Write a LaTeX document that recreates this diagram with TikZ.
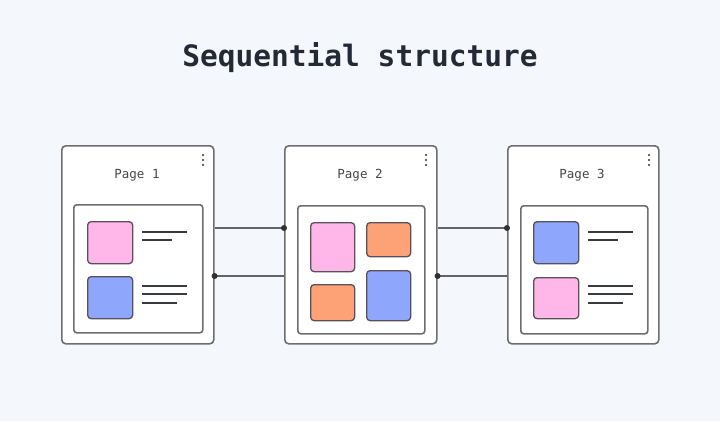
\documentclass[tikz,border=0pt]{standalone}
\usepackage{fontspec}
\newfontfamily\titlefont{DejaVu Sans Mono}
\newfontfamily\pagefont{DejaVu Sans Mono}
\definecolor{bg}{RGB}{244,247,252}
\definecolor{frame}{RGB}{110,110,112}
\definecolor{ink}{RGB}{34,42,54}
\definecolor{pinkc}{RGB}{255,182,232}
\definecolor{bluec}{RGB}{142,166,252}
\definecolor{orangec}{RGB}{252,162,118}
\definecolor{sqline}{RGB}{90,80,90}
\definecolor{txtline}{RGB}{55,58,64}
\definecolor{conn}{RGB}{100,100,104}
\definecolor{dotc}{RGB}{45,48,52}
\tikzset{
  card/.style={draw=frame, line width=1.6pt, fill=white, rounded corners=4pt,
    anchor=north west, inner sep=0pt, minimum width=152pt, minimum height=198pt},
  inner/.style={draw=frame, line width=1.6pt, fill=white, rounded corners=3pt,
    anchor=north west, inner sep=0pt, minimum width=128pt, minimum height=128pt},
  sq/.style={draw=sqline, line width=1.3pt, rounded corners=3.5pt, anchor=north west,
    inner sep=0pt},
  tline/.style={draw=txtline, line width=2pt},
  connector/.style={draw=conn, line width=1.5pt},
  jdot/.style={circle, fill=dotc, inner sep=0pt, minimum size=6pt},
  menudot/.style={circle, fill=dotc, inner sep=0pt, minimum size=2.2pt},
  pagelabel/.style={font=\pagefont\fontsize{12.5}{14}\selectfont, text=black!72},
}
\begin{document}
\begin{tikzpicture}[x=1pt,y=-1pt]
\useasboundingbox (0,0) rectangle (720,421);
\fill[bg] (0,0) rectangle (720,421);

\node[font=\titlefont\bfseries\fontsize{29.5}{33}\selectfont, text=ink] (title) at (360,58) {Sequential structure};

% cards
\node[card] (c1) at (61,145) {};
\node[card, minimum width=152pt] (c2) at (284,145) {};
\node[card, minimum width=151pt] (c3) at (507,145) {};

\node[pagelabel] (p1) at (137,175) {Page 1};
\node[pagelabel] (p2) at (360,175) {Page 2};
\node[pagelabel] (p3) at (582,175) {Page 3};

\foreach \c/\x in {c1/203, c2/426, c3/649}{
  \node[menudot] (\c m1) at (\x,155) {};
  \node[menudot] (\c m2) at (\x,160) {};
  \node[menudot] (\c m3) at (\x,165) {};
}

% inner boxes
\node[inner, minimum width=129pt] (i1) at (73,204) {};
\node[inner, minimum width=127pt] (i2) at (297,205) {};
\node[inner, minimum width=127pt] (i3) at (520,205) {};

% page 1 content
\node[sq, fill=pinkc, minimum width=45pt, minimum height=42pt] (s11) at (87,221) {};
\node[sq, fill=bluec, minimum width=45pt, minimum height=42pt] (s12) at (87,276) {};
\draw[tline] (142,232) -- (187,232);
\draw[tline] (142,240) -- (172,240);
\draw[tline] (142,286) -- (187,286);
\draw[tline] (142,294) -- (187,294);
\draw[tline] (142,303) -- (177,303);

% page 2 content
\node[sq, fill=pinkc, minimum width=44pt, minimum height=49pt] (s21) at (310,222) {};
\node[sq, fill=orangec, minimum width=44pt, minimum height=34pt] (s22) at (366,222) {};
\node[sq, fill=orangec, minimum width=44pt, minimum height=36pt] (s23) at (310,284) {};
\node[sq, fill=bluec, minimum width=44pt, minimum height=50pt] (s24) at (366,270) {};

% page 3 content
\node[sq, fill=bluec, minimum width=45pt, minimum height=42pt] (s31) at (533,221) {};
\node[sq, fill=pinkc, minimum width=45pt, minimum height=41pt] (s32) at (533,277) {};
\draw[tline] (588,232) -- (633,232);
\draw[tline] (588,240) -- (618,240);
\draw[tline] (588,286) -- (633,286);
\draw[tline] (588,294) -- (633,294);
\draw[tline] (588,303) -- (623,303);

% connectors
\coordinate (a1) at (c1.east |- 0,228);
\coordinate (b1) at (c2.west |- 0,228);
\coordinate (a2) at (c1.east |- 0,276);
\coordinate (b2) at (c2.west |- 0,276);
\coordinate (a3) at (c2.east |- 0,228);
\coordinate (b3) at (c3.west |- 0,228);
\coordinate (a4) at (c2.east |- 0,276);
\coordinate (b4) at (c3.west |- 0,276);
\draw[connector] (a1) -- (b1);
\draw[connector] (a2) -- (b2);
\draw[connector] (a3) -- (b3);
\draw[connector] (a4) -- (b4);
\node[jdot] (d1) at (b1) {};
\node[jdot] (d2) at (a2) {};
\node[jdot] (d3) at (b3) {};
\node[jdot] (d4) at (a4) {};
\end{tikzpicture}
\end{document}
